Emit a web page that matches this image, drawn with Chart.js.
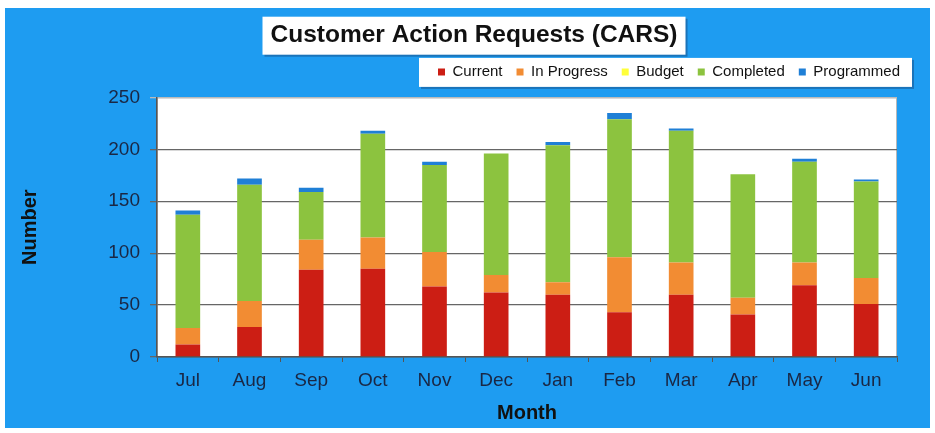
<!DOCTYPE html>
<html>
<head>
<meta charset="utf-8">
<script src="https://cdn.jsdelivr.net/npm/chart.js@4.4.1/dist/chart.umd.min.js"></script>
<style>
  html, body { margin: 0; padding: 0; background: #ffffff; }
  canvas { display: block; }
</style>
</head>
<body>
<canvas id="c" width="935" height="433"></canvas>
<script>
const months = ['Jul', 'Aug', 'Sep', 'Oct', 'Nov', 'Dec', 'Jan', 'Feb', 'Mar', 'Apr', 'May', 'Jun'];
const current = [12, 29, 84, 85, 68, 62, 60, 43, 60, 41, 69, 51];
const inProgress = [16, 25, 29, 30, 33, 17, 12, 53, 31, 16, 22, 25];
const budget = [0, 0, 0, 0, 0, 0, 0, 0, 0, 0, 0, 0];
const completed = [109, 112, 46, 100, 84, 117, 132, 133, 127, 119, 97, 93];
const programmed = [4, 6, 4, 3, 3, 0, 3, 6, 2, 0, 3, 2];
const yTicks = [0, 50, 100, 150, 200, 250];

const titleText = 'Customer Action Requests (CARS)';
const titleFont = { family: '"Liberation Sans", Arial, sans-serif', size: 24.5, weight: 'bold' };
const titlePad = { top: 12, bottom: 0 };

const framePlugin = {
  id: 'frame',
  beforeLayout(chart) {
    const lg = chart.legend;
    if (lg && !lg._extraGap) {
      const origFit = lg.fit;
      lg.fit = function () { origFit.call(this); this.height += 8; };
      lg._extraGap = true;
    }
  },
  afterLayout(chart) {
    const t = chart.titleBlock;
    if (t) { t.left += 26; }
  },
  beforeDraw(chart) {
    const { ctx, chartArea: a } = chart;
    ctx.save();
    ctx.fillStyle = '#ffffff';
    ctx.fillRect(0, 0, chart.width, chart.height);
    ctx.fillStyle = '#1e9cf1';
    ctx.fillRect(5, 8, chart.width - 10, chart.height - 13);

    // title box
    const t = chart.titleBlock;
    if (t) {
      ctx.font = 'bold ' + titleFont.size + 'px ' + titleFont.family;
      const w = ctx.measureText(titleText).width;
      const cx = (t.left + t.right) / 2;
      const cy = t.top + titlePad.top + titleFont.size * 1.2 / 2;
      const bx = cx - w / 2 - 8, by = cy - 19, bw = w + 16, bh = 38;
      ctx.fillStyle = 'rgba(20,40,80,0.35)';
      ctx.fillRect(bx + 2, by + 2, bw, bh);
      ctx.fillStyle = '#ffffff';
      ctx.fillRect(bx, by, bw, bh);
    }
    // legend box
    const lg = chart.legend;
    if (lg && lg.legendHitBoxes && lg.legendHitBoxes.length) {
      const hb = lg.legendHitBoxes;
      const l = hb[0].left - 19;
      const r = hb[hb.length - 1].left + hb[hb.length - 1].width + 12;
      const cy = hb[0].top + hb[0].height / 2;
      ctx.fillStyle = 'rgba(20,40,80,0.35)';
      ctx.fillRect(l + 2, cy - 14 + 2, r - l, 29);
      ctx.fillStyle = '#ffffff';
      ctx.fillRect(l, cy - 14, r - l, 29);
    }
    // plot area
    ctx.fillStyle = '#ffffff';
    ctx.fillRect(a.left, a.top, a.right - a.left, a.bottom - a.top);
    ctx.strokeStyle = '#b8b8b8';
    ctx.lineWidth = 1;
    ctx.strokeRect(a.left + 0.5, a.top + 0.5, a.right - a.left - 1, a.bottom - a.top - 1);
    ctx.restore();
  }
};

const tickFont = { family: '"Liberation Sans", Arial, sans-serif', size: 19 };
const axisTitleFont = { family: '"Liberation Sans", Arial, sans-serif', size: 20, weight: 'bold' };

new Chart(document.getElementById('c'), {
  type: 'bar',
  data: {
    labels: months,
    datasets: [
      { label: 'Current', data: current, backgroundColor: '#cc1e14' },
      { label: 'In Progress', data: inProgress, backgroundColor: '#f28c33' },
      { label: 'Budget', data: budget, backgroundColor: '#ffff3a' },
      { label: 'Completed', data: completed, backgroundColor: '#8cc33f' },
      { label: 'Programmed', data: programmed, backgroundColor: '#1f7fd6' }
    ].map(d => Object.assign(d, { yAxisID: 'y', borderWidth: 0, categoryPercentage: 1, barPercentage: 0.4 }))
  },
  options: {
    responsive: false,
    animation: false,
    devicePixelRatio: 1,
    layout: { padding: { left: 8, right: 21, top: 9, bottom: 0 } },
    plugins: {
      tooltip: { enabled: false },
      title: {
        display: true,
        text: titleText,
        color: '#111111',
        font: titleFont,
        padding: titlePad
      },
      legend: {
        display: true,
        position: 'top',
        align: 'end',
        labels: {
          boxWidth: 7,
          boxHeight: 7,
          padding: 14,
          color: '#111111',
          font: { family: '"Liberation Sans", Arial, sans-serif', size: 15 }
        }
      }
    },
    scales: {
      x: {
        stacked: true,
        grid: { display: true, drawOnChartArea: false, drawTicks: true, tickLength: 5, color: '#555555', offset: true },
        border: { display: true, color: '#555555', width: 1.5 },
        ticks: { color: '#1a2744', font: tickFont, padding: 7, maxRotation: 0 },
        title: { display: true, text: 'Month', color: '#111111', font: axisTitleFont, padding: { top: 4, bottom: 8 } },
        afterFit: s => { s.height = 76; }
      },
      y: {
        stacked: true,
        position: 'left',
        min: 0,
        max: 250,
        afterBuildTicks: s => { s.ticks = yTicks.map(v => ({ value: v })); },
        grid: {
          color: ctx => (ctx.tick && ctx.tick.value === 250) ? '#bbbbbb' : '#666666',
          lineWidth: 1.3,
          tickLength: 7,
          drawTicks: true
        },
        border: { display: true, color: '#555555', width: 1.5 },
        ticks: { color: '#1a2744', font: tickFont, padding: 10 },
        title: { display: true, text: 'Number', color: '#111111', font: axisTitleFont, padding: { top: 10, bottom: 4 } },
        afterFit: s => { s.width = 149; }
      },
      yR: {
        type: 'linear',
        position: 'right',
        display: true,
        grid: { display: false },
        border: { display: false },
        ticks: { display: false },
        afterFit: s => { s.width = 17; }
      }
    }
  },
  plugins: [framePlugin]
});
</script>
</body>
</html>
